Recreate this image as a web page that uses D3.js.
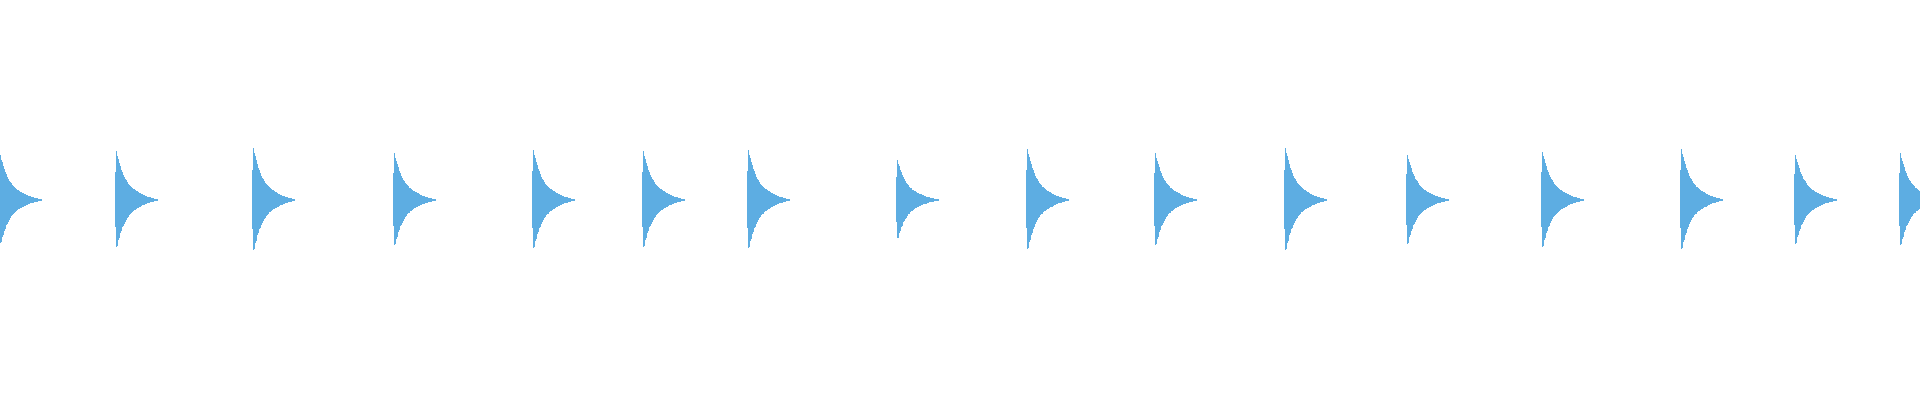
<!DOCTYPE html>
<html>
<head>
<meta charset="utf-8">
<script src="https://cdn.jsdelivr.net/npm/d3@7"></script>
<style>
  html, body { margin: 0; padding: 0; background: #ffffff; }
  svg { display: block; }
</style>
</head>
<body>
<div id="chart"></div>
<script>
// ---- Data ----
// Onset time (seconds) of each hit
const onsets = [-0.005, 0.575, 1.260, 1.965, 2.660, 3.210, 3.735, 4.480,
                5.130, 5.770, 6.420, 7.030, 7.705, 8.400, 8.970, 9.495];
// Peak amplitude of each hit (full scale = 1)
const peaks  = [0.45, 0.49, 0.52, 0.47, 0.50, 0.49, 0.50, 0.40,
                0.51, 0.47, 0.52, 0.455, 0.485, 0.51, 0.455, 0.47];
// Per-pixel-column envelope of one hit (max side / min side), normalised to the peak
const envTop = [0.58, 1.00, 0.90, 0.84, 0.76, 0.70, 0.62, 0.58, 0.52, 0.47,
                0.43, 0.41, 0.37, 0.33, 0.31, 0.29, 0.26, 0.25, 0.23, 0.215,
                0.20, 0.185, 0.175, 0.16, 0.15, 0.14, 0.125, 0.115, 0.105, 0.095,
                0.085, 0.078, 0.070, 0.064, 0.058, 0.052, 0.046, 0.040, 0.035, 0.030,
                0.025, 0.020, 0.015];
const envBot = [0.55, 0.96, 0.94, 0.82, 0.78, 0.68, 0.64, 0.56, 0.53, 0.48,
                0.44, 0.40, 0.36, 0.34, 0.30, 0.28, 0.27, 0.24, 0.225, 0.21,
                0.195, 0.18, 0.17, 0.158, 0.145, 0.135, 0.128, 0.112, 0.100, 0.092,
                0.088, 0.076, 0.068, 0.062, 0.056, 0.050, 0.044, 0.039, 0.034, 0.029,
                0.024, 0.019, 0.014];
const sampleStep = 0.005;   // seconds per envelope column
const duration = 9.6;       // seconds shown

// ---- Layout ----
const W = 1920, H = 400;
const x = d3.scaleLinear().domain([0, duration]).range([0, W]);
const y = d3.scaleLinear().domain([-1, 1]).range([300, 100]);

const svg = d3.select("#chart").append("svg")
  .attr("width", W).attr("height", H);

const cols = [];
onsets.forEach((t0, h) => {
  envTop.forEach((v, i) => {
    cols.push({ t: t0 + i * sampleStep, hi: peaks[h] * v, lo: -peaks[h] * envBot[i] });
  });
});

const colW = x(sampleStep) - x(0);
svg.append("g")
  .attr("fill", "#5dade2")
  .attr("shape-rendering", "crispEdges")
  .selectAll("rect")
  .data(cols.filter(d => x(d.t) > -colW && x(d.t) < W))
  .join("rect")
  .attr("x", d => Math.round(x(d.t)))
  .attr("width", Math.max(1, Math.round(colW)))
  .attr("y", d => y(d.hi))
  .attr("height", d => Math.max(1, y(d.lo) - y(d.hi)));
</script>
</body>
</html>
